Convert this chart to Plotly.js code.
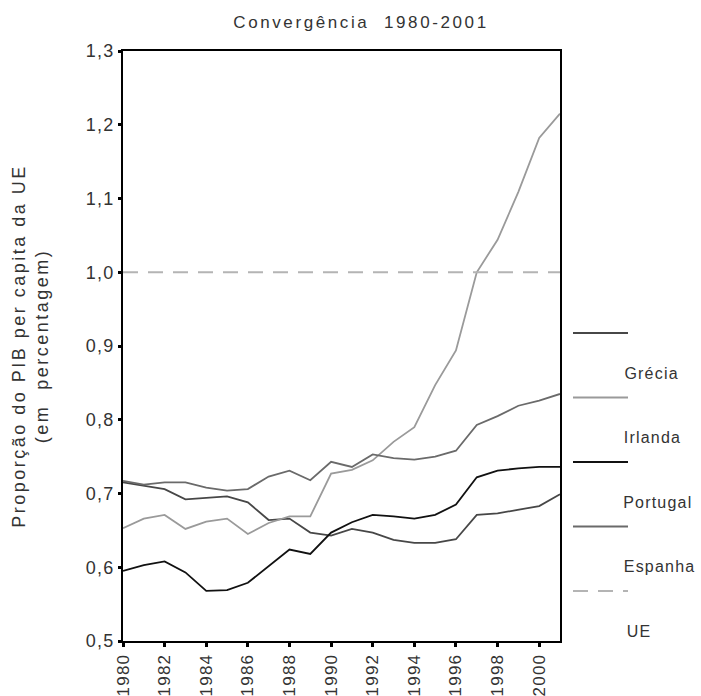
<!DOCTYPE html>
<html>
<head>
<meta charset="utf-8">
<script src="https://cdn.plot.ly/plotly-3.0.1.min.js"></script>
<style>
html,body{margin:0;padding:0;background:#fff;}
#chart text{letter-spacing:1.2px;}
#chart text.gtitle{letter-spacing:2.6px;}
#chart text.ytitle{letter-spacing:2.5px;}
</style>
</head>
<body>
<div id="chart" style="width:701px;height:696px;"></div>
<script>
// ---- data ----
var years = [1980,1981,1982,1983,1984,1985,1986,1987,1988,1989,1990,1991,1992,1993,1994,1995,1996,1997,1998,1999,2000,2001];
var grecia   = [0.715,0.711,0.706,0.692,0.694,0.696,0.688,0.664,0.666,0.647,0.643,0.652,0.647,0.637,0.633,0.633,0.638,0.671,0.673,0.678,0.683,0.699];
var irlanda  = [0.653,0.666,0.671,0.652,0.662,0.666,0.645,0.660,0.669,0.669,0.727,0.732,0.745,0.770,0.790,0.847,0.894,1.000,1.044,1.109,1.182,1.215];
var portugal = [0.595,0.603,0.608,0.593,0.568,0.569,0.579,0.601,0.624,0.618,0.647,0.661,0.671,0.669,0.666,0.671,0.685,0.722,0.731,0.734,0.736,0.736];
var espanha  = [0.717,0.712,0.715,0.715,0.708,0.704,0.706,0.723,0.731,0.718,0.743,0.736,0.753,0.748,0.746,0.750,0.758,0.793,0.805,0.819,0.826,0.835];
var ue       = [1.0,1.0,1.0,1.0,1.0,1.0,1.0,1.0,1.0,1.0,1.0,1.0,1.0,1.0,1.0,1.0,1.0,1.0,1.0,1.0,1.0,1.0];
var seriesNames = ["Grécia","Irlanda","Portugal","Espanha","UE"];
var xTickVals = [1980,1982,1984,1986,1988,1990,1992,1994,1996,1998,2000];
var chartTitle = "Convergência\u00a0\u00a01980-2001";
var yTitle = "Proporção\u00a0do\u00a0PIB\u00a0per\u00a0capita\u00a0da\u00a0UE<br>(em\u00a0\u00a0percentagem)";

// ---- styles ----
var colors = ["#474747","#9a9a9a","#111111","#6a6a6a","#b4b4b4"];
var dashes = ["solid","solid","solid","solid","15px,10px"];
var seriesData = [grecia, irlanda, portugal, espanha, ue];
var FONT = "'Liberation Sans', Arial, sans-serif";

var traces = seriesData.map(function(d,i){
  return {x: years, y: d, type: "scatter", mode: "lines", name: seriesNames[i],
          line: {color: colors[i], width: 1.8, dash: dashes[i]}, showlegend: false, hoverinfo: "skip"};
});

// plot area: left 123, right 560, top 51, bottom 641 (px)
var L = 123, R = 560, T = 51, B = 641, W = 701, H = 696;
function px2x(p){ return (p - L) / (R - L); }
function px2y(p){ return (B - p) / (B - T); }

var shapes = [], annotations = [];
seriesNames.forEach(function(n,i){
  var ly = 333 + i*64.5;
  shapes.push({type:"line", xref:"paper", yref:"paper", x0:px2x(573), x1:px2x(628), y0:px2y(ly), y1:px2y(ly),
               line:{color:colors[i], width:1.8, dash:dashes[i]}});
  annotations.push({xref:"paper", yref:"paper", x:px2x(626), y:px2y(ly+40), xanchor:"left", yanchor:"middle",
                    text:n, showarrow:false, font:{family:FONT, size:16, color:"#333"}});
});

var layout = {
  width: W, height: H,
  margin: {l: L, r: W - R, t: T, b: H - B},
  paper_bgcolor: "#fff", plot_bgcolor: "#fff",
  separators: ",.",
  font: {family: FONT, color: "#333"},
  title: {text: chartTitle, x: 361 / W, xanchor: "center", y: 1 - 22/H, yanchor: "middle",
          font: {family: FONT, size: 17, color: "#333"}},
  xaxis: {range: [1980, 2001], tickmode: "array", tickvals: xTickVals, tickangle: -90,
          showgrid: false, zeroline: false, showline: true, mirror: true, linecolor: "#000", linewidth: 2,
          ticks: "outside", ticklen: 4, tickwidth: 3, tickcolor: "#000",
          tickfont: {family: FONT, size: 17, color: "#333"}},
  yaxis: {range: [0.5, 1.3], dtick: 0.1, tick0: 0.5, tickformat: ".1f",
          showgrid: false, zeroline: false, showline: true, mirror: true, linecolor: "#000", linewidth: 2,
          ticks: "outside", ticklen: 3, tickwidth: 3, tickcolor: "#000",
          tickfont: {family: FONT, size: 18, color: "#333"},
          title: {text: yTitle, standoff: 36, font: {family: FONT, size: 18, color: "#333"}}},
  shapes: shapes,
  annotations: annotations
};

Plotly.newPlot("chart", traces, layout, {staticPlot: true, displayModeBar: false});
</script>
</body>
</html>
